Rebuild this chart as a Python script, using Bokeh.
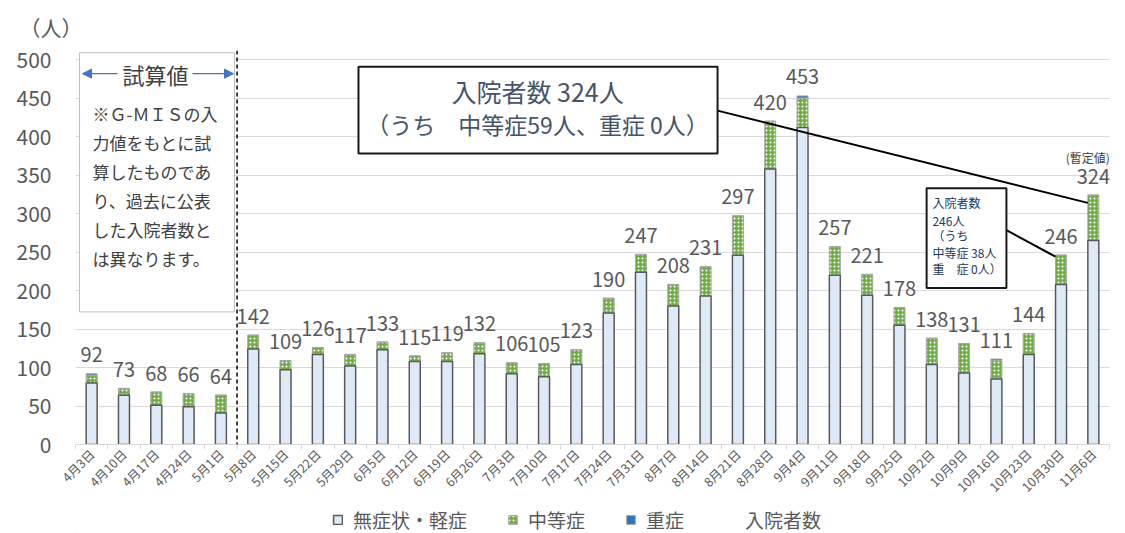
import math
from bokeh.plotting import figure
from bokeh.layouts import column
from bokeh.models import (ColumnDataSource, Range1d, FixedTicker, Legend, LegendItem,
                          Span, Arrow, NormalHead)
from bokeh.transform import stack
from bokeh.core.properties import value
from bokeh.embed import file_html
from bokeh.resources import INLINE

# ---------------- data ----------------
dates = ["4月3日", "4月10日", "4月17日", "4月24日", "5月1日", "5月8日", "5月15日", "5月22日",
         "5月29日", "6月5日", "6月12日", "6月19日", "6月26日", "7月3日", "7月10日", "7月17日",
         "7月24日", "7月31日", "8月7日", "8月14日", "8月21日", "8月28日", "9月4日", "9月11日",
         "9月18日", "9月25日", "10月2日", "10月9日", "10月16日", "10月23日", "10月30日", "11月6日"]
mild = [80, 64, 51, 49, 41, 124, 97, 117, 102, 123, 108, 108, 118, 92, 88, 104,
        171, 224, 180, 193, 246, 358, 412, 220, 194, 155, 104, 93, 85, 117, 208, 265]
moderate = [10, 8, 17, 17, 23, 18, 12, 9, 15, 10, 7, 11, 14, 14, 17, 19,
            19, 23, 28, 38, 51, 62, 38, 37, 27, 23, 34, 38, 24, 27, 38, 59]
severe = [2, 1, 0, 0, 0, 0, 0, 0, 0, 0, 0, 0, 0, 0, 0, 0,
          0, 0, 0, 0, 0, 0, 3, 0, 0, 0, 0, 0, 2, 0, 0, 0]
totals = [92, 73, 68, 66, 64, 142, 109, 126, 117, 133, 115, 119, 132, 106, 105, 123,
          190, 247, 208, 231, 297, 420, 453, 257, 221, 178, 138, 131, 111, 144, 246, 324]
yticks = [0, 50, 100, 150, 200, 250, 300, 350, 400, 450, 500]
series_names = ["無症状・軽症", "中等症", "重症", "入院者数"]

JP = "Noto Sans CJK JP"
GRAY = "#595959"
DARK = "#404040"
BLUE = "#4472C4"
C_MILD, C_MOD, C_SEV = "#DEEBF7", "#70AD47", "#2E75B6"

xs = list(range(len(dates)))
src = ColumnDataSource(dict(x=xs, mild=mild, moderate=moderate, severe=severe,
                            total=totals, label=[str(t) for t in totals]))

p = figure(width=1125, height=505,
           x_range=Range1d(-0.5, len(dates) - 0.5), y_range=Range1d(0, 512),
           output_backend="svg", toolbar_location=None,
           min_border_left=75, min_border_right=16, min_border_top=50, min_border_bottom=60)
p.outline_line_color = None
p.background_fill_color = "white"
p.border_fill_color = "white"

# unit label "（人）" as title
p.title.text = "（人）"
p.title.text_font = JP
p.title.text_font_size = "21px"
p.title.text_font_style = "normal"
p.title.text_color = GRAY
p.title.align = "left"
p.title.offset = -56
p.title.standoff = 17

# axes
p.xaxis.ticker = FixedTicker(ticks=xs, minor_ticks=[i - 0.5 for i in range(len(dates) + 1)])
p.xaxis.major_label_overrides = {i: d for i, d in enumerate(dates)}
p.xaxis.major_label_orientation = math.pi / 4
p.xaxis.major_label_text_font = JP
p.xaxis.major_label_text_font_size = "12.5px"
p.xaxis.major_label_text_color = GRAY
p.xaxis.major_label_standoff = 2
p.xaxis.major_tick_out = 0
p.xaxis.major_tick_in = 0
p.xaxis.minor_tick_out = 5
p.xaxis.minor_tick_in = 0
p.xaxis.minor_tick_line_color = "#D9D9D9"
p.xaxis.axis_line_color = "#D9D9D9"

p.yaxis.ticker = FixedTicker(ticks=yticks)
p.yaxis.axis_line_color = None
p.yaxis.major_tick_out = 0
p.yaxis.major_tick_in = 0
p.yaxis.minor_tick_out = 0
p.yaxis.major_label_standoff = 24
p.yaxis.major_label_text_font = JP
p.yaxis.major_label_text_font_size = "21px"
p.yaxis.major_label_text_color = GRAY

p.xgrid.visible = False
p.ygrid.grid_line_color = "#D9D9D9"
p.ygrid.grid_line_width = 1

bw = 0.34
sev_style = dict(fill_color=C_SEV, line_color="#A6A6A6", line_width=1)
mod_style = dict(fill_color=C_MOD, hatch_pattern="dot", hatch_color="white", hatch_scale=4,
                 hatch_weight=1.4, line_color="#A6A6A6", line_width=1)
mild_style = dict(fill_color=C_MILD, line_color=GRAY, line_width=1.5)

p.vbar(x="x", bottom=stack("mild", "moderate"), top=stack("mild", "moderate", "severe"),
       width=bw, source=src, **sev_style)
p.vbar(x="x", bottom=stack("mild"), top=stack("mild", "moderate"), width=bw, source=src, **mod_style)
p.vbar(x="x", bottom=0, top="mild", width=bw, source=src, **mild_style)

p.text(x="x", y="total", text="label", source=src, text_align="center", text_baseline="middle",
       y_offset=-19, text_font=value(JP), text_font_size="20px", text_color=GRAY)

# divider between estimated and actual values
p.add_layout(Span(location=4.5, dimension="height", line_color="black", line_width=1.5,
                  line_dash="4 3"))

# ---- "試算値" box ----
p.quad(left=[-0.376], right=[4.421], bottom=[172.3], top=[509.1],
       fill_color="white", line_color="#BFBFBF", line_width=1)
p.text(x=[1.976], y=[481.9], text=["試算値"], text_align="center", text_baseline="middle",
       text_font=value(JP), text_font_size="22px", text_color=DARK)
note_lines = ["※Ｇ-ＭＩＳの入", "力値をもとに試", "算したものであ", "り、過去に公表",
              "した入院者数と", "は異なります。"]
note_y = [430.1, 392.5, 354.9, 317.4, 279.8, 242.2]
p.text(x=[0.026] * len(note_lines), y=note_y, text=note_lines, text_align="left",
       text_baseline="middle", text_font=value(JP), text_font_size="17px", text_color=DARK)
for xs_, xe_ in [(0.80, -0.283), (3.121, 4.39)]:
    p.add_layout(Arrow(end=NormalHead(size=9, fill_color=BLUE, line_color=BLUE),
                       x_start=xs_, y_start=481.9, x_end=xe_, y_end=481.9,
                       line_color=BLUE, line_width=1.3))

# ---- big callout box ----
last = len(dates) - 1
p.segment(x0=[19.37], y0=[433.9], x1=[last - bw / 2], y1=[totals[last] - 10],
          line_color="black", line_width=2)
p.quad(left=[8.258], right=[19.37], bottom=[378.2], top=[490.9],
       fill_color="white", line_color="#1a1a1a", line_width=2)
p.text(x=[13.80], y=[459.8], text=["入院者数 324人"], text_align="center", text_baseline="middle",
       text_font=value(JP), text_font_size="25px", text_color="#44546A")
p.text(x=[13.80], y=[417.1], text=["（うち　中等症59人、重症 0人）"], text_align="center",
       text_baseline="middle", text_font=value(JP), text_font_size="23px", text_color="#44546A")

# ---- small callout box ----
prev = len(dates) - 2
p.segment(x0=[28.31], y0=[278.5], x1=[prev - bw / 2], y1=[totals[prev] - 2],
          line_color="black", line_width=2)
p.quad(left=[25.84], right=[28.31], bottom=[203.4], top=[332.9],
       fill_color="white", line_color="#1a1a1a", line_width=2)
small_lines = ["入院者数", " 246人", "  （うち", "中等症 38人", "重　症 0人）"]
small_y = [314.8, 291.5, 272.0, 250.0, 229.3]
p.text(x=[26.02] * len(small_lines), y=small_y, text=small_lines, text_align="left",
       text_baseline="middle", text_font=value(JP), text_font_size="12px", text_color="#203864")

p.text(x=[30.83], y=[373.1], text=["(暫定値)"], text_align="center", text_baseline="middle",
       text_font=value(JP), text_font_size="12px", text_color=DARK)

# ---- legend strip (separate small figure below the chart) ----
lg = figure(width=1125, height=28, x_range=Range1d(0, 1), y_range=Range1d(0, 1),
            output_backend="svg", toolbar_location=None,
            x_axis_location=None, y_axis_location=None,
            min_border_left=0, min_border_right=0, min_border_top=0, min_border_bottom=0)
lg.outline_line_color = None
lg.xgrid.visible = False
lg.ygrid.visible = False
lsrc = ColumnDataSource(dict(x=[-5], y=[-5]))
l_mild = lg.vbar(x="x", top="y", width=0.1, source=lsrc, **mild_style)
l_mod = lg.vbar(x="x", top="y", width=0.1, source=lsrc, **mod_style)
l_sev = lg.vbar(x="x", top="y", width=0.1, source=lsrc, **sev_style)
l_tot = lg.line(x="x", y="y", source=lsrc, line_alpha=0)

legend = Legend(items=[LegendItem(label=series_names[0], renderers=[l_mild]),
                       LegendItem(label=series_names[1], renderers=[l_mod]),
                       LegendItem(label=series_names[2], renderers=[l_sev]),
                       LegendItem(label=series_names[3], renderers=[l_tot])],
                location=(257, 0), orientation="horizontal",
                label_text_font=JP, label_text_font_size="19px", label_text_color=GRAY,
                glyph_width=11, glyph_height=11, spacing=40, label_standoff=10,
                padding=0, margin=0, border_line_alpha=0, background_fill_alpha=0)
lg.add_layout(legend, "center")

layout = column(p, lg, spacing=0)
open("out.html", "w").write(file_html(layout, INLINE))
